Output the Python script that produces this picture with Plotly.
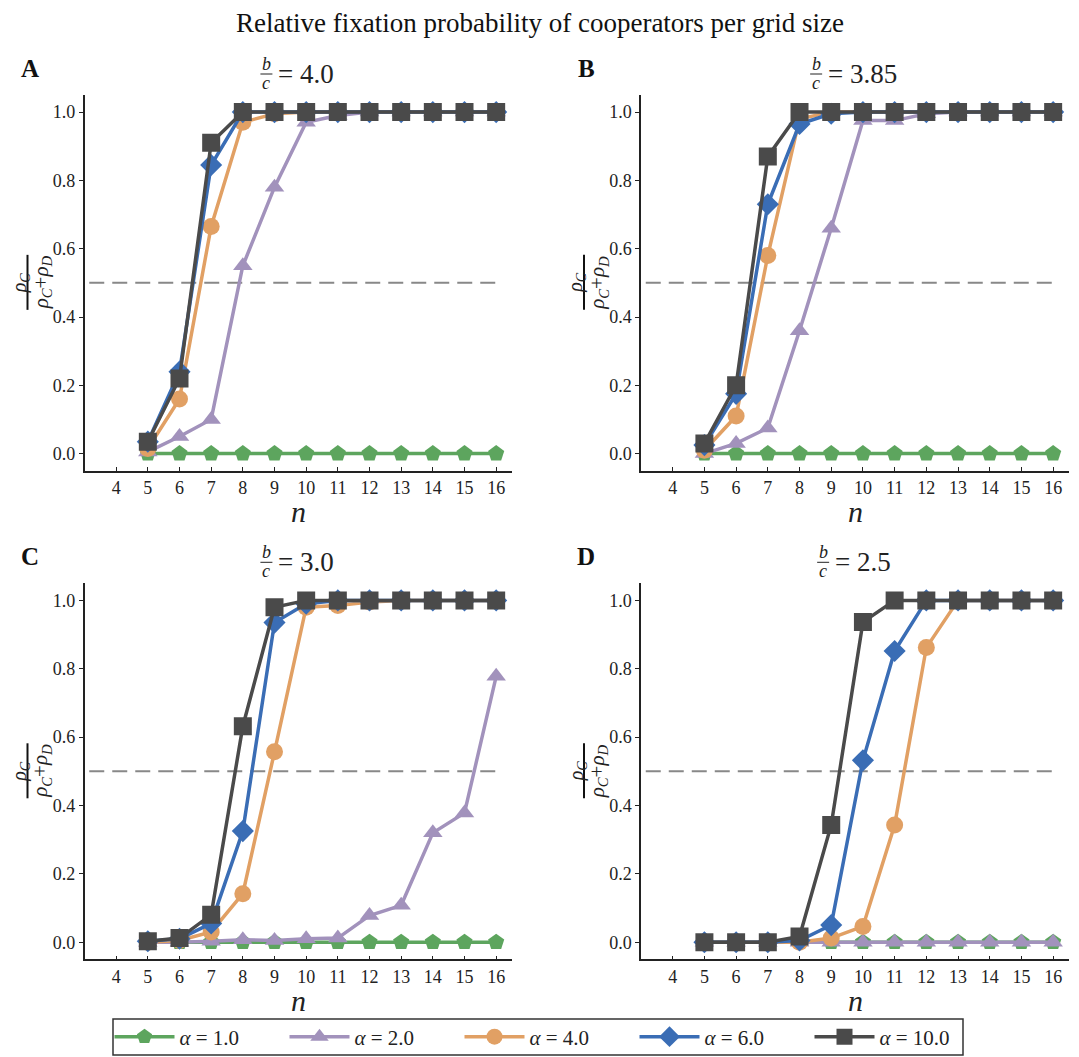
import plotly.graph_objects as go

# ---------------- data ----------------
N = list(range(5, 17))
X_TICKS = list(range(4, 17))
Y_TICKS = [0.0, 0.2, 0.4, 0.6, 0.8, 1.0]
PANELS = ["A", "B", "C", "D"]
BC_RATIOS = ["4.0", "3.85", "3.0", "2.5"]
ALPHAS = ["1.0", "2.0", "4.0", "6.0", "10.0"]
THRESHOLD = 0.5
TITLE = "Relative fixation probability of cooperators per grid size"

# Panel A  (b/c = 4.0)
A_alpha1 = [0, 0, 0, 0, 0, 0, 0, 0, 0, 0, 0, 0]
A_alpha2 = [0.005, 0.05, 0.10, 0.55, 0.78, 0.97, 0.99, 1.0, 1.0, 1.0, 1.0, 1.0]
A_alpha4 = [0.015, 0.16, 0.665, 0.97, 0.995, 1.0, 1.0, 1.0, 1.0, 1.0, 1.0, 1.0]
A_alpha6 = [0.035, 0.24, 0.845, 1.0, 1.0, 1.0, 1.0, 1.0, 1.0, 1.0, 1.0, 1.0]
A_alpha10 = [0.035, 0.22, 0.91, 1.0, 1.0, 1.0, 1.0, 1.0, 1.0, 1.0, 1.0, 1.0]

# Panel B  (b/c = 3.85)
B_alpha1 = [0, 0, 0, 0, 0, 0, 0, 0, 0, 0, 0, 0]
B_alpha2 = [0.0, 0.03, 0.075, 0.36, 0.66, 0.975, 0.975, 0.995, 1.0, 1.0, 1.0, 1.0]
B_alpha4 = [0.01, 0.11, 0.58, 0.98, 1.0, 1.0, 1.0, 1.0, 1.0, 1.0, 1.0, 1.0]
B_alpha6 = [0.025, 0.175, 0.73, 0.965, 0.995, 1.0, 1.0, 1.0, 1.0, 1.0, 1.0, 1.0]
B_alpha10 = [0.03, 0.20, 0.87, 1.0, 1.0, 1.0, 1.0, 1.0, 1.0, 1.0, 1.0, 1.0]

# Panel C  (b/c = 3.0)
C_alpha1 = [0, 0, 0, 0, 0, 0, 0, 0, 0, 0, 0, 0]
C_alpha2 = [0.0, 0.0, 0.003, 0.007, 0.005, 0.01, 0.012, 0.078, 0.108, 0.32, 0.378, 0.778]
C_alpha4 = [0.0, 0.005, 0.03, 0.142, 0.557, 0.98, 0.985, 0.995, 1.0, 1.0, 1.0, 1.0]
C_alpha6 = [0.003, 0.01, 0.055, 0.325, 0.935, 0.99, 1.0, 1.0, 1.0, 1.0, 1.0, 1.0]
C_alpha10 = [0.003, 0.012, 0.08, 0.632, 0.98, 1.0, 1.0, 1.0, 1.0, 1.0, 1.0, 1.0]

# Panel D  (b/c = 2.5)
D_alpha1 = [0, 0, 0, 0, 0, 0, 0, 0, 0, 0, 0, 0]
D_alpha2 = [0, 0, 0, 0, 0, 0, 0, 0, 0, 0, 0, 0]
D_alpha4 = [0.0, 0.0, 0.0, 0.0, 0.012, 0.046, 0.343, 0.862, 1.0, 1.0, 1.0, 1.0]
D_alpha6 = [0.0, 0.0, 0.0, 0.005, 0.05, 0.532, 0.852, 1.0, 1.0, 1.0, 1.0, 1.0]
D_alpha10 = [0.0, 0.0, 0.0, 0.017, 0.343, 0.937, 1.0, 1.0, 1.0, 1.0, 1.0, 1.0]

PANEL_DATA = [
    [A_alpha1, A_alpha2, A_alpha4, A_alpha6, A_alpha10],
    [B_alpha1, B_alpha2, B_alpha4, B_alpha6, B_alpha10],
    [C_alpha1, C_alpha2, C_alpha4, C_alpha6, C_alpha10],
    [D_alpha1, D_alpha2, D_alpha4, D_alpha6, D_alpha10],
]

# ---------------- style ----------------
PAGE_OFFSET = 8  # default page margin around the plot div
W, H = 1079 - PAGE_OFFSET, 1057 - PAGE_OFFSET
FONT = "Liberation Serif"
COLORS = ["#5DA55E", "#A292BC", "#E1A064", "#3A6DB5", "#4A4A4A"]
SYMBOLS = ["pentagon", "triangle-up", "circle", "diamond", "square"]
SIZES = [17, 17, 17, 17, 18]
AX_COLOR = "#222222"

# axis domains in window pixels
col_px = [(84.5, 512.0), (641.0, 1069.0)]
row_px = [(95.0, 470.7), (583.3, 959.3)]  # top, bottom (from top of window)
LEGEND_BOX = (113, 963, 1019, 1055)  # left, right, top, bottom (window px)


def px_x(p):
    return (p - PAGE_OFFSET) / W


def px_y(p):
    return 1 - (p - PAGE_OFFSET) / H


fig = go.Figure()
layout = dict(
    width=W, height=H,
    margin=dict(l=0, r=0, t=0, b=0, autoexpand=False),
    paper_bgcolor="white", plot_bgcolor="white",
    font=dict(family=FONT, color=AX_COLOR),
    showlegend=True,
)

annotations = []
shapes = []


def text_width(s, fs):
    w = 0.0
    for ch in s:
        if ch == "=":
            w += 0.60
        elif ch == " ":
            w += 0.30
        elif ch == ".":
            w += 0.27
        else:
            w += 0.52
    return w * fs


for i, panel in enumerate(PANELS):
    r, c = divmod(i, 2)
    x0p, x1p = col_px[c]
    ytop, ybot = row_px[r]
    ax = "" if i == 0 else str(i + 1)
    xa, ya = "x" + ax, "y" + ax
    layout["xaxis" + ax] = dict(
        domain=[px_x(x0p), px_x(x1p)], anchor=ya, range=[3.0, 16.5],
        tickvals=X_TICKS, ticks="inside", ticklen=4, tickwidth=1,
        tickcolor=AX_COLOR, showline=True, linecolor=AX_COLOR, linewidth=1.5,
        showgrid=False, zeroline=False, automargin=False,
        tickfont=dict(family=FONT, size=18, color=AX_COLOR),
    )
    layout["yaxis" + ax] = dict(
        domain=[px_y(ybot), px_y(ytop)], anchor=xa, range=[-0.05, 1.05],
        tickvals=Y_TICKS, tickformat=".1f", ticks="outside", ticklen=4,
        tickwidth=1, tickcolor=AX_COLOR, showline=True, linecolor=AX_COLOR,
        linewidth=1.5, showgrid=False, zeroline=False, automargin=False,
        tickfont=dict(family=FONT, size=18, color=AX_COLOR),
    )

    # threshold line
    shapes.append(dict(
        type="line", xref=xa, yref=ya, x0=3.15, x1=N[-1],
        y0=THRESHOLD, y1=THRESHOLD,
        line=dict(color="#888888", width=2, dash="15px,8px"), layer="below",
    ))

    for k, series in enumerate(PANEL_DATA[i]):
        fig.add_trace(go.Scatter(
            x=N, y=series, xaxis=xa, yaxis=ya, mode="lines+markers",
            name="<i>α</i> = " + ALPHAS[k], legendgroup=ALPHAS[k],
            showlegend=(i == 0),
            line=dict(color=COLORS[k], width=3.5),
            marker=dict(symbol=SYMBOLS[k], size=SIZES[k], color=COLORS[k],
                        line=dict(width=0)),
        ))

    # panel letter
    annotations.append(dict(
        text="<b>" + panel + "</b>", xref="paper", yref="paper",
        x=px_x(x0p - 55), y=px_y(ytop - 27), showarrow=False,
        font=dict(family=FONT, size=25, color="#111111"),
        xanchor="center", yanchor="middle",
    ))

    # subplot title: fraction b/c = value
    center = (x0p + x1p) / 2
    eq = "= " + BC_RATIOS[i]
    tfs = 27
    tw = text_width(eq, tfs)
    group_w = 16 + tw
    gl = center - group_w / 2
    fx = gl + 6
    annotations.append(dict(
        text="<i>b</i>", xref="paper", yref="paper", x=px_x(fx), y=px_y(ytop - 31),
        showarrow=False, font=dict(family=FONT, size=18, color=AX_COLOR),
        xanchor="center", yanchor="middle"))
    annotations.append(dict(
        text="<i>c</i>", xref="paper", yref="paper", x=px_x(fx), y=px_y(ytop - 12),
        showarrow=False, font=dict(family=FONT, size=18, color=AX_COLOR),
        xanchor="center", yanchor="middle"))
    shapes.append(dict(
        type="line", xref="paper", yref="paper",
        x0=px_x(fx - 6), x1=px_x(fx + 6), y0=px_y(ytop - 21), y1=px_y(ytop - 21),
        line=dict(color=AX_COLOR, width=1)))
    annotations.append(dict(
        text=eq, xref="paper", yref="paper", x=px_x(gl + 16), y=px_y(ytop - 21),
        showarrow=False, font=dict(family=FONT, size=tfs, color=AX_COLOR),
        xanchor="left", yanchor="middle"))

    # y-axis label: rho_C / (rho_C + rho_D), rotated
    yc = (ytop + ybot) / 2
    annotations.append(dict(
        text="<i>ρ</i><sub><i>C</i></sub>", xref="paper", yref="paper",
        x=px_x(x0p - 64), y=px_y(yc), textangle=-90, showarrow=False,
        font=dict(family=FONT, size=20, color=AX_COLOR),
        xanchor="center", yanchor="middle"))
    annotations.append(dict(
        text="<i>ρ</i><sub><i>C</i></sub>+<i>ρ</i><sub><i>D</i></sub>",
        xref="paper", yref="paper",
        x=px_x(x0p - 43), y=px_y(yc), textangle=-90, showarrow=False,
        font=dict(family=FONT, size=21, color=AX_COLOR),
        xanchor="center", yanchor="middle"))
    shapes.append(dict(
        type="line", xref="paper", yref="paper",
        x0=px_x(x0p - 57), x1=px_x(x0p - 57), y0=px_y(yc - 28), y1=px_y(yc + 27),
        line=dict(color="#111111", width=2)))

    # x-axis label n
    annotations.append(dict(
        text="<i>n</i>", xref="paper", yref="paper",
        x=px_x(center), y=px_y(ybot + 41), showarrow=False,
        font=dict(family=FONT, size=30, color=AX_COLOR),
        xanchor="center", yanchor="middle"))

# main title
annotations.append(dict(
    text=TITLE, xref="paper", yref="paper", x=px_x(540), y=px_y(23),
    showarrow=False, font=dict(family=FONT, size=27, color="#111111"),
    xanchor="center", yanchor="middle"))

# legend frame
lx0, lx1, ly0, ly1 = LEGEND_BOX
shapes.append(dict(
    type="rect", xref="paper", yref="paper",
    x0=px_x(lx0), x1=px_x(lx1), y0=px_y(ly1), y1=px_y(ly0),
    line=dict(color="#333333", width=1.5), fillcolor="white", layer="below"))

layout["annotations"] = annotations
layout["shapes"] = shapes
layout["legend"] = dict(
    orientation="h", x=px_x((lx0 + lx1) / 2 + 9), xanchor="center",
    y=px_y((ly0 + ly1) / 2), yanchor="middle",
    borderwidth=0, bgcolor="rgba(0,0,0,0)",
    font=dict(family=FONT, size=21, color=AX_COLOR),
    entrywidth=100, entrywidthmode="pixels", itemwidth=60,
    tracegroupgap=0, valign="middle",
    traceorder="normal", itemsizing="trace",
)
fig.update_layout(**layout)
fig.write_html("out.html")
